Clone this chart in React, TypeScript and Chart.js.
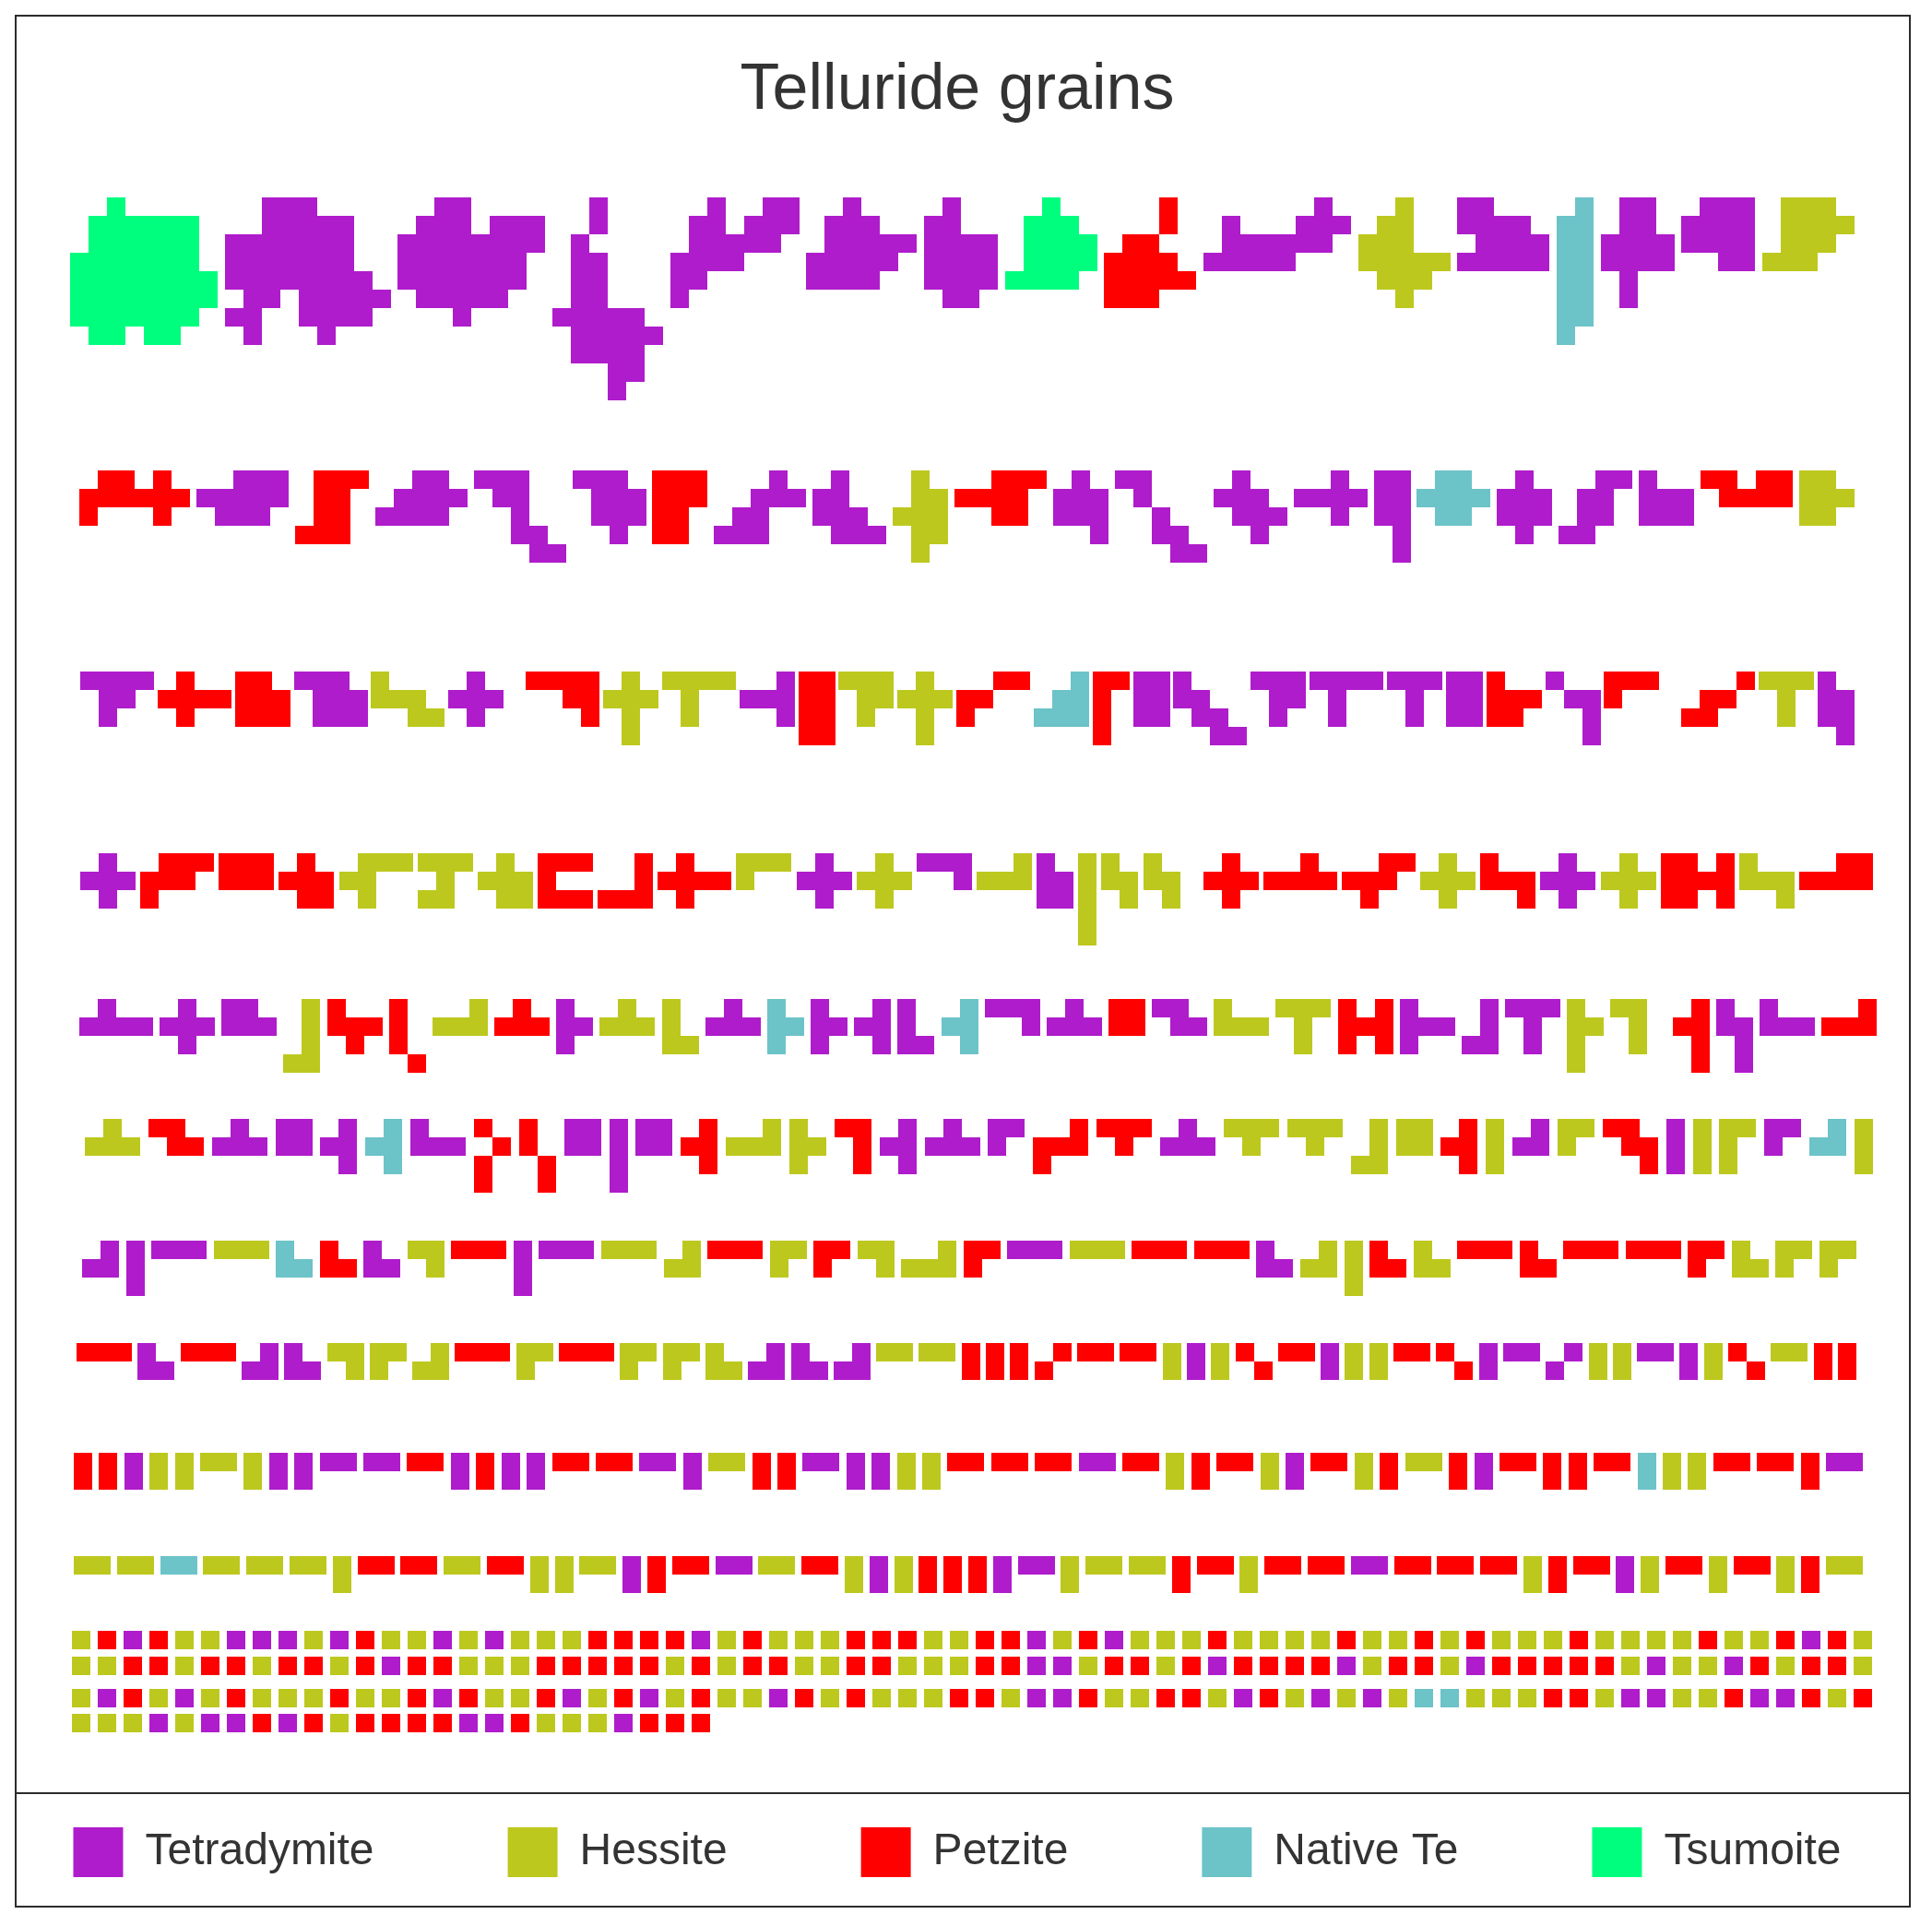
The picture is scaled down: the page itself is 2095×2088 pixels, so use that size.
import React, { useEffect, useRef } from 'react';
import { Chart, registerables } from 'chart.js';

Chart.register(...registerables);

// ---------------- data ----------------
const TITLE = 'Telluride grains';
const MINERALS = ['Tetradymite', 'Hessite', 'Petzite', 'Native Te', 'Tsumoite'];
const CODES = ['T', 'H', 'P', 'N', 'S'];
const COLORS = ['#AF1CCB', '#BDC81E', '#FE0000', '#6CC3C8', '#00FE7E'];

// each grain: cell map, rows separated by "/", letter = mineral code
const ROW_1 = [
  '..S...../.SSSSSS./.SSSSSS./SSSSSSS./SSSSSSSS/SSSSSSSS/SSSSSSS./.SS.SS..',
  '..TTT..../..TTTTT../TTTTTTT../TTTTTTT../TTTTTTTT./.TT.TTTTT/TT..TTTT./.T...T...',
  '..TT..../.TTT.TTT/TTTTTTTT/TTTTTTT./TTTTTTT./.TTTTT../...T....',
  '..T.../..T.../.T..../.TT.../.TT.../.TT.../TTTTT./.TTTTT/.TTTT./...TT./...T..',
  '..T..TT/.TT.TTT/.TTTTT./TTTT.../TT...../T......',
  '..T.../.TTT../.TTTTT/TTTTT./TTTT..',
  '.T../TT../TTTT/TTTT/TTTT/.TT.',
  '..S../.SSS./.SSSS/.SSSS/SSSS.',
  '...P./...P./.PP../PPPP./PPPPP/PPP..',
  '......T./.T...TTT/.TTTTTT./TTTTT...',
  '..H../.HH../HHH../HHHHH/.HHH./..H..',
  'TT.../TTTT./.TTTT/TTTTT',
  '.N/NN/NN/NN/NN/NN/NN/N.',
  '.TT./.TT./TTTT/TTTT/.T../.T..',
  '.TTT/TTTT/TTTT/..TT',
  '.HHH./.HHHH/.HHH./HHH..',
];

const ROW_2 = [
  '.PP.P./PPPPPP/P...P.',
  '..TTT/TTTTT/.TTT.',
  '.PPP/.PP./.PP./PPP.',
  '..TT./.TTTT/TTTT.',
  'TTT../.TT../..T../..TT./...TT',
  'TTT./.TTT/.TTT/..T.',
  'PPP/PPP/PP./PP.',
  '...T./..TTT/.TT../TTT..',
  '.T../TT../TTT./.TTT',
  '.H./.HH/HHH/.HH/.H.',
  '..PPP/PPPP./..PP.',
  '.T./TTT/TTT/..T',
  'TT.../.T.../..T../..TT./...TT',
  '.T../TTT./.TTT/..T.',
  '..T./TTTT/..T.',
  'TT/TT/TT/.T/.T',
  '.NN./NNNN/.NN.',
  '.T./TTT/TTT/.T.',
  '..TT/.TT./.TT./TT..',
  'T../TTT/TTT',
  'PP.PP/.PPPP',
  'HH./HHH/HH.',
];

const ROW_3 = [
  'TTTT/.TT./.T..',
  '.P../PPPP/.P..',
  'PP./PPP/PPP',
  'TTT./.TTT/.TTT',
  'H.../HHH./..HH',
  '.T../TTT./.T..',
  'PPPP/..PP/...P',
  '.H./HHH/.H./.H.',
  'HHHH/.H../.H..',
  '..T/TTT/..T',
  'PP/PP/PP/PP',
  'HHH/.HH/.H.',
  '.H./HHH/.H./.H.',
  '..PP/PP../P...',
  '..N/.NN/NNN',
  'PP/P./P./P.',
  'TT/TT/TT',
  'T.../TT../.TT./..TT',
  'TTT/.TT/.T.',
  'TTTT/.T../.T..',
  'TTT/.T./.T.',
  'TT/TT/TT',
  'P../PPP/PP.',
  'T../.TT/..T/..T',
  'PPP./P...',
  '...P/.PP./PP..',
  'HHH/.H./.H.',
  'T./TT/TT/.T',
];

const ROW_4 = [
  '.T./TTT/.T.',
  '.PPP/PPP./P...',
  'PPP/PPP',
  '.P./PPP/.PP',
  '.HHH/HH../.H..',
  'HHH/.H./HH.',
  '.H./HHH/.HH',
  'PPP/P../PPP',
  '..P/..P/PPP',
  '.P../PPPP/.P..',
  'HHH/H..',
  '.T./TTT/.T.',
  '.H./HHH/.H.',
  'TTT/..T',
  '..H/HHH',
  'T./TT/TT',
  'H/H/H/H/H',
  'H./HH/.H',
  'H../HH./.H.',
  '.P./PPP/.P.',
  '..P./PPPP',
  '..PP/PPP./.P..',
  '.H./HHH/.H.',
  'P../PPP/..P',
  '.T./TTT/.T.',
  '.H./HHH/.H.',
  'PP.P/PPPP/PP.P',
  'H../HHH/..H',
  '..PP/PPPP',
];

const ROW_5 = [
  '.T../TTTT',
  '.T./TTT/.T.',
  'TT./TTT',
  '.H/.H/.H/HH',
  'P../PPP/.P.',
  'P./P./P./.P',
  '..H/HHH',
  '.P./PPP',
  'T./TT/T.',
  '.H./HHH',
  'H./H./HH',
  '.T./TTT',
  'N./NN/N.',
  'T./TT/T.',
  '.T/TT/.T',
  'T./T./TT',
  '.N/NN/.N',
  'TTT/..T',
  '.T./TTT',
  'PP/PP',
  'TT./.TT',
  'H../HHH',
  'HHH/.H./.H.',
  'P.P/PPP/P.P',
  'T../TTT/T..',
  '.T/.T/TT',
  'TTT/.T./.T.',
  'H./HH/H./H.',
  'HH./.H./.H.',
  '.P/PP/.P/.P',
  'T./TT/.T/.T',
  'T../TTT',
  '..P/PPP',
];

const ROW_6 = [
  '.H./HHH',
  'PP./.PP',
  '.T./TTT',
  'TT/TT',
  '.T/TT/.T',
  '.N/NN/.N',
  'T../TTT',
  'P./.P/P./P.',
  'P./P./.P/.P',
  'TT/TT',
  'T/T/T/T',
  'TT/TT',
  '.P/PP/.P',
  '..H/HHH',
  'H./HH/H.',
  'PP/.P/.P',
  '.T/TT/.T',
  '.T./TTT',
  'TT/T.',
  '..P/PPP/P..',
  'PPP/.P.',
  '.T./TTT',
  'HHH/.H.',
  'HHH/.H.',
  '.H/.H/HH',
  'HH/HH',
  '.P/PP/.P',
  'H/H/H',
  '.T/TT',
  'HH/H.',
  'PP./.PP/..P',
  'T/T/T',
  'H/H/H',
  'HH/H./H.',
  'TT/T.',
  '.N/NN',
  'H/H/H',
];

const ROW_7 = [
  '.T/TT', 'T/T/T', 'TTT', 'HHH', 'N./NN', 'P./PP', 'T./TT', 'HH/.H', 'PPP',
  'T/T/T', 'TTT', 'HHH', '.H/HH', 'PPP', 'HH/H.', 'PP/P.', 'HH/.H', '..H/HHH',
  'PP/P.', 'TTT', 'HHH', 'PPP', 'PPP', 'T./TT', '.H/HH', 'H/H/H', 'P./PP',
  'H./HH', 'PPP', 'P./PP', 'PPP', 'PPP', 'PP/P.', 'H./HH', 'HH/H.', 'HH/H.',
];

const ROW_8 = [
  'PPP', 'T./TT', 'PPP', '.T/TT', 'T./TT', 'HH/.H', 'HH/H.', '.H/HH', 'PPP',
  'HH/H.', 'PPP', 'HH/H.', 'HH/H.', 'H./HH', '.T/TT', 'T./TT', '.T/TT', 'HH',
  'HH', 'P/P', 'P/P', 'P/P', '.P/P.', 'PP', 'PP', 'H/H', 'T/T', 'H/H', 'P./.P',
  'PP', 'T/T', 'H/H', 'H/H', 'PP', 'P./.P', 'T/T', 'TT', '.T/T.', 'H/H', 'H/H',
  'TT', 'T/T', 'H/H', 'P./.P', 'HH', 'P/P', 'P/P',
];

const ROW_9 = [
  'P/P', 'P/P', 'T/T', 'H/H', 'H/H', 'HH', 'H/H', 'T/T', 'T/T', 'TT', 'TT', 'PP',
  'T/T', 'P/P', 'T/T', 'T/T', 'PP', 'PP', 'TT', 'T/T', 'HH', 'P/P', 'P/P', 'TT',
  'T/T', 'T/T', 'H/H', 'H/H', 'PP', 'PP', 'PP', 'TT', 'PP', 'H/H', 'P/P', 'PP',
  'H/H', 'T/T', 'PP', 'H/H', 'P/P', 'HH', 'P/P', 'T/T', 'PP', 'P/P', 'P/P', 'PP',
  'N/N', 'H/H', 'H/H', 'PP', 'PP', 'P/P', 'TT',
];

const ROW_10 = [
  'HH', 'HH', 'NN', 'HH', 'HH', 'HH', 'H/H', 'PP', 'PP', 'HH', 'PP', 'H/H', 'H/H',
  'HH', 'T/T', 'P/P', 'PP', 'TT', 'HH', 'PP', 'H/H', 'T/T', 'H/H', 'P/P', 'P/P',
  'P/P', 'T/T', 'TT', 'H/H', 'HH', 'HH', 'P/P', 'PP', 'H/H', 'PP', 'PP', 'TT',
  'PP', 'PP', 'PP', 'H/H', 'P/P', 'PP', 'T/T', 'H/H', 'PP', 'H/H', 'PP', 'H/H',
  'P/P', 'HH',
];

// single-cell grains, one letter per grain
const SQUARES_A = 'HPTPHHTTTHTPHHTHTHHHPPPP' + 'THPHHHPPPHHPPTHPTHHHPH' + 'HHHPHHPHPHHHPHHHHPHHPTPH';
const SQUARES_B = 'HHPPHPPHPPHPTPPHHHPPPPPH' + 'PHPPHHPPHHHPPTTHPPHPTP' + 'PPPTHPPHTPPPPPHTHHTPHPPH';
const SQUARES_C = 'HTPHTHPHHHPHHPTPHHPTHPTH' + 'PHHTPHPHHHPPHTTPHHPPHT' + 'PHTHTHNNHHHPPHTTHHPTTPHP';
const SQUARES_D = 'HHHTHTTPTPHPPPPTTPHHHTPPP';

// ---------------- layout (page pixels) ----------------
const BOX_W = 2052;
const BOX_H = 2048;
const OVERHANG_L = 107; // canvas extends past the frame (clipped)
const OVERHANG_R = 95;
const CANVAS_W = BOX_W + OVERHANG_L + OVERHANG_R;
const CANVAS_H = BOX_H;
const ORIGIN_X = 18 - OVERHANG_L; // page x of canvas left edge
const ORIGIN_Y = 18;
const CELL = 20;
const GRAIN_ROWS = [ROW_1, ROW_2, ROW_3, ROW_4, ROW_5, ROW_6, ROW_7, ROW_8, ROW_9, ROW_10];
const ROW_TOP = [214, 510, 728, 925, 1083, 1213, 1345, 1456, 1575, 1687];
const ROW_LEFT = [76, 86, 87, 87, 86, 92, 89, 83, 80, 80];
const ROW_RIGHT = [2011, 2011, 2011, 2031, 2035, 2031, 2013, 2013, 2020, 2020];
const SQUARE_ROWS = [SQUARES_A, SQUARES_B, SQUARES_C, SQUARES_D];
const SQUARE_TOP = [1768, 1796, 1831, 1858];
const SQUARE_LEFT = 78;
const SQUARE_RIGHT = 2030;
const DIVIDER_Y = 1944;

function parseGrain(s: string) {
  const lines = s.split('/');
  const cells: { c: number; r: number; k: number }[] = [];
  let w = 0;
  lines.forEach((line, r) => {
    w = Math.max(w, line.length);
    for (let c = 0; c < line.length; c++) {
      const k = CODES.indexOf(line[c]);
      if (k >= 0) cells.push({ c, r, k });
    }
  });
  return { w, cells };
}

function placeRow(grains: string[], topPx: number, leftPx: number, rightPx: number, out: any[][], fixedGap?: number) {
  const parsed = grains.map(parseGrain);
  const total = parsed.reduce((a, g) => a + g.w, 0);
  const gap = fixedGap !== undefined ? fixedGap : ((rightPx - leftPx) / CELL - total) / (parsed.length - 1);
  let x = (leftPx - ORIGIN_X) / CELL;
  const y0 = (topPx - ORIGIN_Y) / CELL;
  parsed.forEach((g) => {
    const gx = Math.round(x * CELL) / CELL;
    g.cells.forEach((cell) => out[cell.k].push({ x: gx + cell.c + 0.5, y: y0 + cell.r + 0.5 }));
    x += g.w + gap;
  });
  return gap;
}

function buildPoints() {
  const out: any[][] = MINERALS.map(() => []);
  GRAIN_ROWS.forEach((row, i) => placeRow(row, ROW_TOP[i], ROW_LEFT[i], ROW_RIGHT[i], out));
  let gap: number | undefined = undefined;
  SQUARE_ROWS.forEach((row, i) => {
    const g = placeRow(row.split(''), SQUARE_TOP[i], SQUARE_LEFT, SQUARE_RIGHT, out, gap);
    if (gap === undefined) gap = g;
  });
  return out;
}

// one data unit = one grain cell, anchored to canvas pixels
const gridLock = {
  id: 'gridLock',
  afterLayout(chart: any) {
    const a = chart.chartArea;
    const xs = chart.scales.x;
    const ys = chart.scales.y;
    xs.min = a.left / CELL;
    xs.max = a.right / CELL;
    xs.configure();
    ys.min = a.top / CELL;
    ys.max = a.bottom / CELL;
    ys.configure();
  },
};

const divider = {
  id: 'divider',
  afterDraw(chart: any) {
    const ctx = chart.ctx;
    ctx.save();
    ctx.strokeStyle = '#2b2b2b';
    ctx.lineWidth = 2;
    ctx.beginPath();
    ctx.moveTo(0, DIVIDER_Y - ORIGIN_Y);
    ctx.lineTo(chart.width, DIVIDER_Y - ORIGIN_Y);
    ctx.stroke();
    ctx.restore();
  },
};

export default function App() {
  const ref = useRef<HTMLCanvasElement | null>(null);
  useEffect(() => {
    const pts = buildPoints();
    const styles = COLORS.map((c) => {
      const cv = document.createElement('canvas');
      cv.width = CELL;
      cv.height = CELL;
      const g = cv.getContext('2d')!;
      g.fillStyle = c;
      g.fillRect(0, 0, CELL, CELL);
      return cv;
    });
    const font = "'Liberation Sans', Arial, sans-serif";
    const chart = new Chart(ref.current as HTMLCanvasElement, {
      type: 'scatter',
      data: {
        datasets: MINERALS.map((name, i) => ({
          label: name,
          data: pts[i],
          backgroundColor: COLORS[i],
          borderColor: COLORS[i],
          borderWidth: 0,
          pointStyle: styles[i] as any,
          pointRadius: 400,
          clip: false as any,
        })),
      },
      options: {
        animation: false,
        responsive: false,
        devicePixelRatio: 1,
        events: [],
        layout: { autoPadding: false, padding: { top: 0, left: 0, right: 0, bottom: 21 } },
        scales: {
          x: { type: 'linear', display: false, min: 0, max: 100 },
          y: { type: 'linear', display: false, reverse: true, min: 0, max: 100 },
        },
        plugins: {
          title: {
            display: true,
            text: TITLE,
            color: '#333333',
            font: { family: font, size: 70, weight: 'normal' },
            padding: { top: 39, bottom: 20 },
          },
          legend: {
            display: true,
            position: 'bottom',
            labels: {
              boxWidth: 54,
              boxHeight: 54,
              padding: 145,
              color: '#333333',
              font: { family: font, size: 48 },
            },
          },
          tooltip: { enabled: false },
        },
      } as any,
      plugins: [gridLock, divider],
    });
    return () => chart.destroy();
  }, []);
  return (
    <div
      style={{
        position: 'absolute',
        left: 16,
        top: 16,
        width: BOX_W,
        height: BOX_H,
        border: '2px solid #2b2b2b',
        background: '#ffffff',
        overflow: 'hidden',
      }}
    >
      <canvas
        ref={ref}
        width={CANVAS_W}
        height={CANVAS_H}
        style={{ display: 'block', width: CANVAS_W, height: CANVAS_H, marginLeft: -OVERHANG_L }}
      />
    </div>
  );
}
